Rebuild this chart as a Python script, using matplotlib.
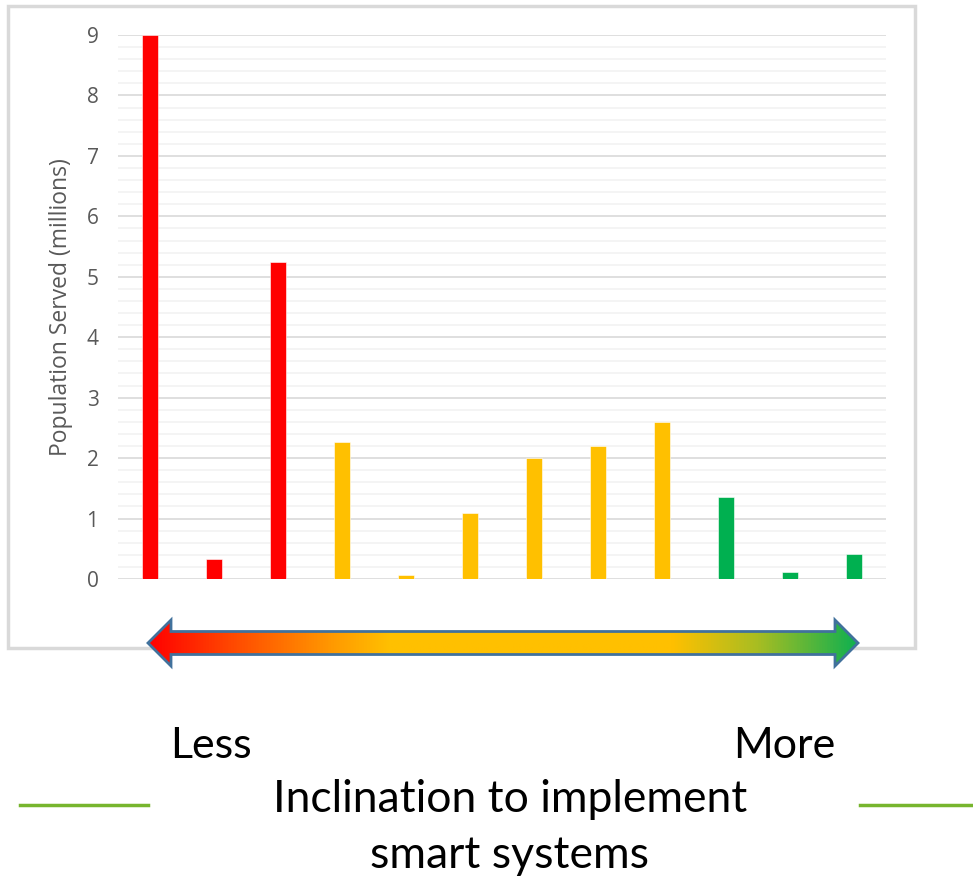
import numpy as np
import matplotlib.pyplot as plt
from matplotlib.colors import LinearSegmentedColormap
from matplotlib.patches import Polygon, Rectangle
from matplotlib.lines import Line2D

values = [9.0, 0.33, 5.24, 2.27, 0.07, 1.10, 2.0, 2.2, 2.59, 1.36, 0.11, 0.41]
groups = ['less'] * 3 + ['mid'] * 6 + ['more'] * 3
group_colors = {'less': '#ff0000', 'mid': '#ffc000', 'more': '#00b050'}
y_label = 'Population Served (millions)'

W, H = 973, 880
fig = plt.figure(figsize=(W / 100, H / 100), dpi=100)

# overlay in pixel coordinates for the decorations
over = fig.add_axes([0, 0, 1, 1])
over.set_xlim(0, W)
over.set_ylim(H, 0)
over.axis('off')
over.add_patch(Rectangle((8, 6), 907, 642, fill=False, edgecolor='#d9d9d9', linewidth=2.5))

ax = fig.add_axes([118 / W, 1 - 579 / H, 768 / W, 544 / H])
x = np.arange(len(values))
ax.bar(x, values, width=0.25, color=[group_colors[g] for g in groups],
       edgecolor='white', linewidth=0.4, zorder=3)
ax.set_xlim(-0.5, len(values) - 0.5)
ax.set_ylim(0, 9)
ax.set_yticks(np.arange(0, 10, 1))
ax.set_yticks(np.arange(0, 9.01, 0.2), minor=True)
ax.grid(axis='y', which='major', color='#d9d9d9', linewidth=1.2, zorder=0)
ax.grid(axis='y', which='minor', color='#f2f2f2', linewidth=1.2, zorder=0)
ax.set_xticks([])
for s in ['top', 'right', 'left', 'bottom']:
    ax.spines[s].set_visible(False)
ax.tick_params(axis='y', which='both', length=0, pad=14, labelsize=15, labelcolor='#595959')
for lab in ax.get_yticklabels():
    lab.set_fontfamily('Open Sans')
ax.set_ylabel(y_label, fontsize=16.5, color='#595959', family='Open Sans', labelpad=10)
ax.patch.set_alpha(0)

# gradient arrow
cmap = LinearSegmentedColormap.from_list('incl', [
    (0.0, '#ff0000'), (0.12, '#ff4a00'), (0.26, '#ff9a00'), (0.34, '#ffc000'),
    (0.74, '#ffc000'), (0.86, '#a8bd22'), (1.0, '#0fb050')])
x0, x1, yc = 148, 858, 643
head, hh, sh = 23, 23, 11.5
pts = [(x0, yc), (x0 + head, yc - hh), (x0 + head, yc - sh), (x1 - head, yc - sh),
       (x1 - head, yc - hh), (x1, yc), (x1 - head, yc + hh), (x1 - head, yc + sh),
       (x0 + head, yc + sh), (x0 + head, yc + hh)]
grad = np.linspace(0, 1, 512).reshape(1, -1)
im = over.imshow(grad, cmap=cmap, extent=(x0, x1, yc + hh, yc - hh), aspect='auto', zorder=2)
arrow = Polygon(pts, closed=True, facecolor='none', edgecolor='#41719c', linewidth=2, zorder=3)
over.add_patch(arrow)
im.set_clip_path(arrow)
over.set_xlim(0, W)
over.set_ylim(H, 0)

font = ['Lato', 'DejaVu Sans']
over.text(170, 758, 'Less', fontsize=31, family=font, ha='left', va='baseline')
over.text(835, 758, 'More', fontsize=31, family=font, ha='right', va='baseline')
over.text(510, 800, 'Inclination to implement', fontsize=32, family=font, ha='center', va='center')
over.text(510, 856, 'smart systems', fontsize=32, family=font, ha='center', va='center')
over.add_line(Line2D([20, 148], [805, 805], color='#77b52e', linewidth=2.5))
over.add_line(Line2D([860, 973], [805, 805], color='#77b52e', linewidth=2.5))

fig.savefig('out.png', dpi=100)
